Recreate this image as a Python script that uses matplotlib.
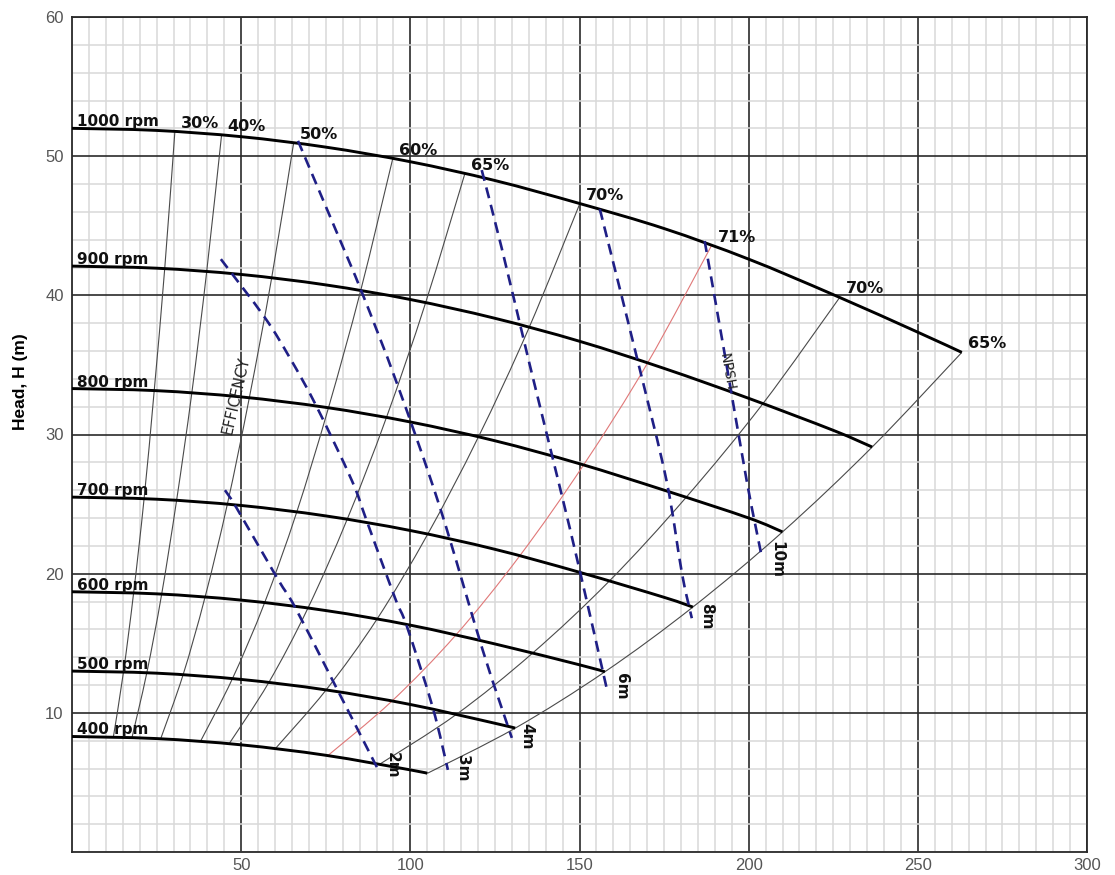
import numpy as np
import matplotlib
matplotlib.use("Agg")
import matplotlib.pyplot as plt
from matplotlib.ticker import MultipleLocator
from matplotlib.path import Path
from matplotlib.patches import PathPatch

# ---------------- data ----------------
speed_labels = ["1000 rpm", "900 rpm", "800 rpm", "700 rpm", "600 rpm", "500 rpm", "400 rpm"]

q_1000 = [0, 25, 50, 75, 100, 125, 150, 175, 200, 225, 250, 263]
h_1000 = [52.0, 51.85, 51.4, 50.65, 49.6, 48.25, 46.6, 44.8, 42.6, 40.05, 37.35, 35.9]
q_900 = [0, 25, 50, 75, 100, 125, 150, 175, 200, 225, 236.5]
h_900 = [42.1, 41.95, 41.5, 40.75, 39.7, 38.35, 36.7, 34.75, 32.6, 30.3, 29.1]
q_800 = [0, 25, 50, 75, 100, 125, 150, 175, 200, 210]
h_800 = [33.3, 33.15, 32.7, 31.95, 30.9, 29.55, 27.9, 26.0, 24.0, 23.0]
q_700 = [0, 25, 50, 75, 100, 125, 150, 175, 183.5]
h_700 = [25.5, 25.35, 24.9, 24.15, 23.1, 21.75, 20.1, 18.3, 17.6]
q_600 = [0, 25, 50, 75, 100, 125, 150, 157.5]
h_600 = [18.7, 18.55, 18.1, 17.35, 16.3, 14.95, 13.45, 12.95]
q_500 = [0, 25, 50, 75, 100, 125, 131]
h_500 = [13.0, 12.85, 12.4, 11.65, 10.6, 9.25, 8.9]
q_400 = [0, 25, 50, 75, 100, 105]
h_400 = [8.3, 8.15, 7.7, 6.95, 5.9, 5.65]

speed_q = [q_1000, q_900, q_800, q_700, q_600, q_500, q_400]
speed_h = [h_1000, h_900, h_800, h_700, h_600, h_500, h_400]

# iso-efficiency lines: flow where each line crosses the 1000 ... 400 rpm curves
eff_labels = ["30%", "40%", "50%", "60%", "65%", "70%", "71%", "70%", "65%"]
eff_q_30 = [30.4, 27.4, 24.3, 21.3, 18.2, 15.2, 12.2]
eff_q_40 = [44.2, 39.8, 35.4, 30.9, 26.5, 22.1, 17.7]
eff_q_50 = [65.5, 59.0, 52.4, 45.9, 39.3, 32.8, 26.2]
eff_q_60 = [94.8, 85.3, 75.8, 66.4, 56.9, 47.4, 37.9]
eff_q_65 = [116.1, 104.5, 92.9, 81.3, 69.7, 58.1, 46.4]
eff_q_70 = [150.1, 135.1, 120.1, 105.1, 90.1, 75.1, 60.0]
eff_q_71 = [189.0, 170.1, 151.2, 132.3, 113.4, 94.5, 75.6]
eff_q_70r = [226.9, 204.2, 181.5, 158.8, 136.1, 113.5, 90.8]
eff_q_65r = [263.0, 236.5, 210.0, 183.5, 157.5, 131.0, 105.0]
eff_q = [eff_q_30, eff_q_40, eff_q_50, eff_q_60, eff_q_65, eff_q_70,
         eff_q_71, eff_q_70r, eff_q_65r]

# NPSH required lines (dashed)
npsh_labels = ["2m", "3m", "4m", "6m", "8m", "10m"]
npsh_q_2 = [45.2, 48.7, 60.6, 65.9, 77.1, 90.1]
npsh_h_2 = [26.0, 24.7, 19.7, 17.6, 12.3, 6.1]
npsh_q_3 = [44.0, 57.0, 64.4, 72.1, 82.7, 87.1, 95.4, 99.0, 106.6, 111.1]
npsh_h_3 = [42.6, 38.4, 35.5, 32.1, 26.7, 23.8, 18.3, 16.2, 10.4, 5.9]
npsh_q_4 = [66.8, 78.3, 85.7, 96.0, 108.7, 121.4, 130.0]
npsh_h_4 = [51.1, 44.5, 40.2, 33.7, 24.8, 14.5, 8.2]
npsh_q_6 = [121.1, 127.0, 135.3, 144.2, 150.1, 158.0]
npsh_h_6 = [49.0, 43.4, 35.0, 26.2, 20.2, 11.8]
npsh_q_8 = [156.0, 158.9, 167.5, 175.7, 180.3, 183.2]
npsh_h_8 = [46.2, 43.4, 35.0, 26.7, 20.0, 16.8]
npsh_q_10 = [187.0, 192.9, 199.4, 203.8]
npsh_h_10 = [43.9, 35.8, 26.7, 21.3]
npsh_q = [npsh_q_2, npsh_q_3, npsh_q_4, npsh_q_6, npsh_q_8, npsh_q_10]
npsh_h = [npsh_h_2, npsh_h_3, npsh_h_4, npsh_h_6, npsh_h_8, npsh_h_10]

x_ticks = [50, 100, 150, 200, 250, 300]
y_ticks = [10, 20, 30, 40, 50, 60]


def smooth_path(xs, ys):
    """Smooth Bezier path passing through the given data points."""
    P = np.column_stack([xs, ys]).astype(float)
    n = len(P)
    verts = [P[0]]
    codes = [Path.MOVETO]
    for i in range(n - 1):
        p0 = P[i - 1] if i > 0 else P[i]
        p1, p2 = P[i], P[i + 1]
        p3 = P[i + 2] if i + 2 < n else P[i + 1]
        verts += [p1 + (p2 - p0) / 6.0, p2 - (p3 - p1) / 6.0, p2]
        codes += [Path.CURVE4] * 3
    return Path(verts, codes)


def draw_curve(ax, xs, ys, **kw):
    patch = PathPatch(smooth_path(xs, ys), fill=False, **kw)
    ax.add_patch(patch)


# ---------------- figure ----------------
fig = plt.figure(figsize=(11.15, 8.75), dpi=100)
ax = fig.add_axes([72 / 1115, 23 / 875, 1015 / 1115, 835 / 875])
ax.set_xlim(0, 300)
ax.set_ylim(0, 60)

ax.xaxis.set_minor_locator(MultipleLocator(5))
ax.yaxis.set_minor_locator(MultipleLocator(2))
ax.set_xticks(x_ticks)
ax.set_yticks(y_ticks)
ax.set_xticklabels([str(v) for v in x_ticks])
ax.set_yticklabels([str(v) for v in y_ticks])
ax.set_axisbelow(True)
ax.grid(which="minor", color="#d8d8d8", linewidth=1.1)
ax.grid(which="major", color="#2a2a2a", linewidth=1.2)
ax.tick_params(which="both", length=0)
ax.tick_params(axis="x", pad=4, labelsize=12, labelcolor="#555555")
ax.tick_params(axis="y", pad=6, labelsize=12, labelcolor="#555555")
for lab in ax.get_xticklabels() + ax.get_yticklabels():
    lab.set_fontfamily("Liberation Sans")
for sp in ax.spines.values():
    sp.set_color("#2a2a2a")
    sp.set_linewidth(1.3)

fig.text(21 / 1115, 1 - 382 / 875, "Head, H (m)", rotation=90, ha="center",
         va="center", fontsize=12.5, fontweight="bold", family="Liberation Sans")

# iso-efficiency lines
for lab, qs in zip(eff_labels, eff_q):
    hs = [np.interp(q, sq, sh) for q, sq, sh in zip(qs, speed_q, speed_h)]
    red = lab == "71%"
    draw_curve(ax, qs, hs, edgecolor="#e07878" if red else "#4a4a4a",
               linewidth=0.8, zorder=3)
    ax.annotate(lab, (qs[0], hs[0]), xytext=(6, 4), textcoords="offset pixels",
                ha="left", va="baseline", fontsize=11.5, fontweight="bold",
                color="#111111", zorder=6)

# speed curves
for lab, qs, hs in zip(speed_labels, speed_q, speed_h):
    draw_curve(ax, qs, hs, edgecolor="black", linewidth=2.1,
               capstyle="butt", zorder=4)
    ax.annotate(lab, (qs[0], hs[0]), xytext=(5, 2), textcoords="offset pixels",
                ha="left", va="baseline", fontsize=11, fontweight="bold",
                color="#111111", zorder=6)

# NPSH dashed lines
for lab, qs, hs in zip(npsh_labels, npsh_q, npsh_h):
    draw_curve(ax, qs, hs, edgecolor="#1f1f86", linewidth=1.9,
               linestyle=(0, (4.2, 2.6)), zorder=5)
    ax.annotate(lab, (qs[-1], hs[-1]), xytext=(15, 15), textcoords="offset pixels",
                ha="center", va="top", rotation=270, fontsize=11,
                fontweight="bold", color="#111111", zorder=6)

ax.text(48.4, 32.8, "EFFICENCY", rotation=77, ha="center", va="center",
        fontsize=10.5, color="#222222", zorder=6)
ax.text(193.6, 34.5, "NPSH", rotation=-80, ha="center", va="center",
        fontsize=10, color="#222222", zorder=6)

fig.savefig("out.png", dpi=100)
